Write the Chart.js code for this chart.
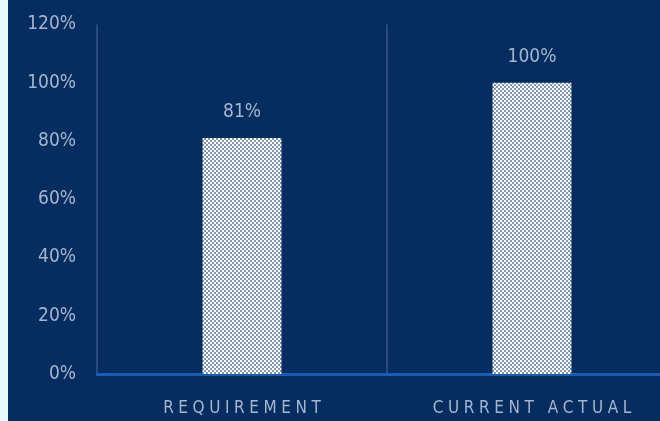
<!DOCTYPE html>
<html>
<head>
<meta charset="utf-8">
<script src="https://cdn.jsdelivr.net/npm/chart.js@4.4.0/dist/chart.umd.min.js"></script>
<style>
  html, body { margin: 0; padding: 0; width: 660px; height: 421px; overflow: hidden; background: #e6f8fc; }
  #wrap { position: absolute; left: 8px; top: 0; width: 672px; height: 421px; background: #052d5f; }
</style>
</head>
<body>
<div id="wrap"><canvas id="chart" width="672" height="421"></canvas></div>
<script>
var categories = ['REQUIREMENT', 'CURRENT ACTUAL'];
var values = [81, 100];
var yTicks = [0, 20, 40, 60, 80, 100, 120];

var labelFont = '"DejaVu Sans Condensed", "DejaVu Sans", sans-serif';
var textColor = '#a3b5cf';

// checkered fill like the original bars
function makePattern() {
    var c = document.createElement('canvas');
    c.width = 4; c.height = 4;
    var g = c.getContext('2d');
    g.fillStyle = '#8198bb';
    g.fillRect(0, 0, 4, 4);
    g.fillStyle = '#ffffff';
    g.fillRect(0, 0, 2, 2);
    g.fillRect(2, 2, 2, 2);
    return g.createPattern(c, 'repeat');
}

var valueLabels = {
    id: 'valueLabels',
    afterDatasetsDraw: function (chart) {
        var ctx = chart.ctx;
        var meta = chart.getDatasetMeta(0);
        ctx.save();
        ctx.font = 'condensed 19px ' + labelFont;
        ctx.fillStyle = textColor;
        ctx.textAlign = 'center';
        ctx.textBaseline = 'middle';
        meta.data.forEach(function (bar, i) {
            ctx.fillText(values[i] + '%', bar.x, bar.y - 26);
        });
        ctx.restore();
    }
};

var ctx = document.getElementById('chart').getContext('2d');
var chart = new Chart(ctx, {
    type: 'bar',
    data: {
        labels: categories,
        datasets: [{
            data: values,
            backgroundColor: makePattern(),
            borderWidth: 0,
            barPercentage: 0.68,
            categoryPercentage: 0.4
        }]
    },
    options: {
        responsive: false,
        animation: false,
        layout: { padding: { top: 10, right: 3, left: 0, bottom: 0 } },
        plugins: { legend: { display: false }, tooltip: { enabled: false } },
        scales: {
            x: {
                grid: { color: '#2a4c7c', lineWidth: 2, drawTicks: false },
                border: { color: '#1a5cb5', width: 3 },
                ticks: {
                    color: textColor,
                    font: { family: labelFont, size: 17, weight: 'condensed' },
                    padding: 24,
                    callback: function (v, i) {
                        return categories[i].split('').join('\u2009\u200a');
                    }
                },
                afterFit: function (s) { s.height = 47; }
            },
            y: {
                min: 0,
                max: 120,
                afterBuildTicks: function (s) {
                    s.ticks = yTicks.map(function (v) { return { value: v }; });
                },
                grid: { display: false },
                border: { display: false },
                ticks: {
                    color: textColor,
                    font: { family: labelFont, size: 19, weight: 'condensed' },
                    padding: 13,
                    callback: function (v) { return v + '%'; }
                },
                afterFit: function (s) { s.width = 89; }
            }
        }
    },
    plugins: [valueLabels]
});
</script>
</body>
</html>
